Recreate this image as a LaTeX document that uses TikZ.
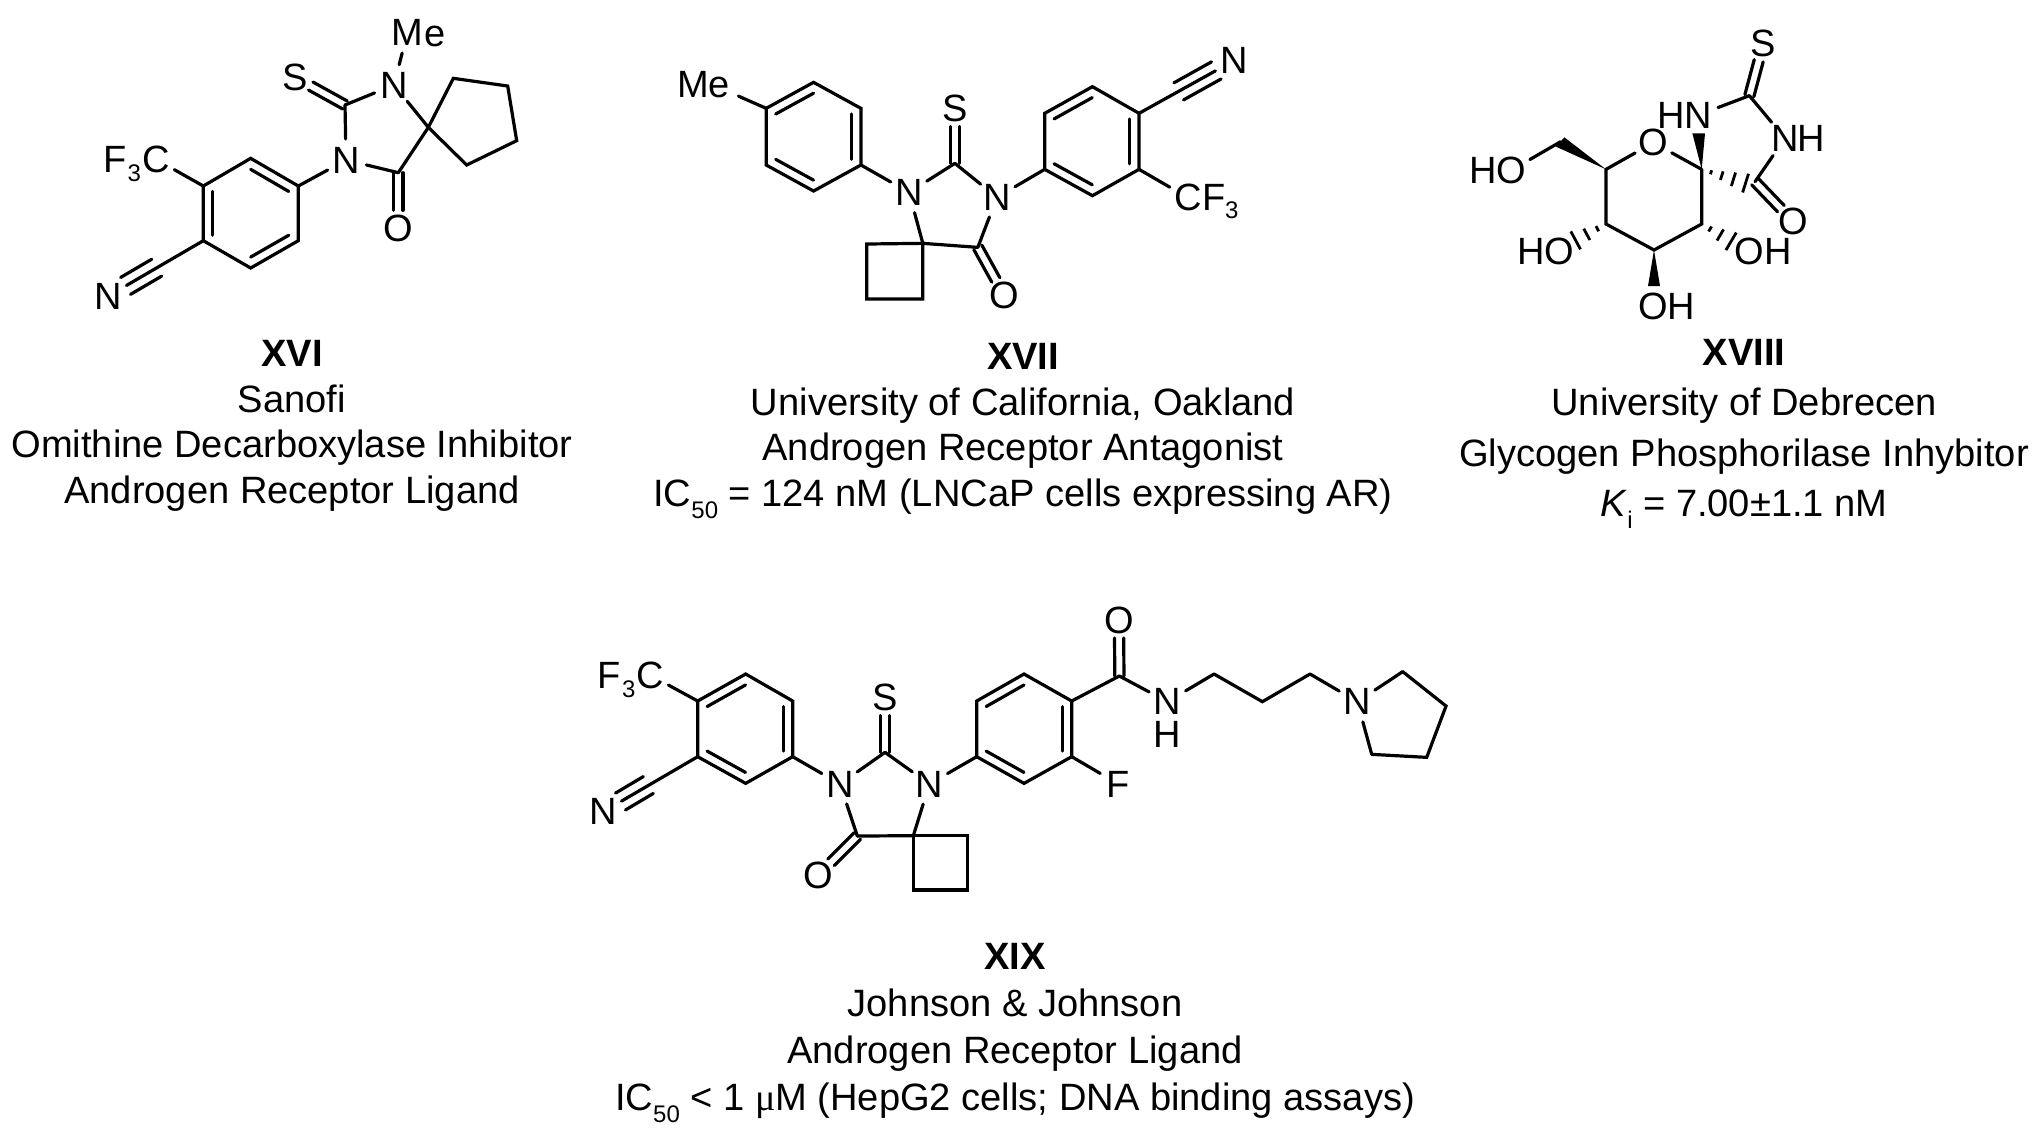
\documentclass[tikz,border=0pt]{standalone}
\usepackage{fontspec}
\setmainfont{Liberation Sans}
\newfontfamily\serifmu{Liberation Serif}
\usetikzlibrary{calc}
\newcommand\atomfont{\fontsize{19}{19}\selectfont}
\newcommand\subfont{\fontsize{12}{12}\selectfont}
\newcommand\sbs[1]{\raisebox{-.32em}{\subfont #1}}
\tikzset{
  bond/.style={line width=1.6pt,line cap=round,line join=miter,black},
  thinbond/.style={line width=1.4pt,line cap=butt,black},
  atom/.style={circle,inner sep=0pt,minimum size=20.6pt,font=\atomfont,text depth=0pt},
  piece/.style={inner sep=0pt,font=\atomfont},
  boxatom/.style={rectangle,inner sep=0pt,outer sep=2.3pt,font=\atomfont,text depth=0pt},
  subpiece/.style={inner sep=0pt,font=\subfont},
  caption/.style={inner sep=0pt,align=center,font=\fontsize{19.05}{22.8}\selectfont},
  mol/.style={x=0.166667pt,y=-0.166667pt},
}
% aromatic inner line, parallel to a-b, towards ring centre c
\newcommand\inner[3]{\draw[bond] ($(#1)!.2!(#3)$) -- ($(#2)!.2!(#3)$);}
% double bond from carbon #1 to atom node #2
\newcommand\dbl[2]{\draw[bond,shorten >=9pt] ($(#1)!2.3pt!90:(#2.center)$) -- ($(#2.center)!2.3pt!-90:(#1)$);
  \draw[bond,shorten >=9pt] ($(#1)!2.3pt!-90:(#2.center)$) -- ($(#2.center)!2.3pt!90:(#1)$);}
% side lines of a triple bond from carbon #1 to atom node #2
\newcommand\trp[2]{\draw[bond,shorten >=10pt] ($(#1)!4.9pt!90:(#2.center)$) -- ($(#2.center)!4.9pt!-90:(#1)$);
  \draw[bond,shorten >=10pt] ($(#1)!4.9pt!-90:(#2.center)$) -- ($(#2.center)!4.9pt!90:(#1)$);}
% hashed bond
\newcommand\hsh[3]{\foreach \t in {#3}{\draw[thinbond] ($(#1)!\t!(#2)!\t*5.2pt!90:(#2)$) -- ($(#1)!\t!(#2)!\t*5.2pt!-90:(#2)$);}}
\begin{document}
\begin{tikzpicture}[x=0.5pt,y=-0.5pt]
\path[use as bounding box,fill=white] (0,0) rectangle (2037,1137);

% ---------- XVI ----------
\begin{scope}[mol,shift={(40pt,0pt)}]
\foreach \n/\x/\y in {ar1/655/558,ar2/512/475,ar3/370/558,ar4/370/722,ar5/512/804,ar6/655/722,arc/512/640,
  cs/795/315,sp/1045/382,cp1/1120/235,cp2/1283/258,cp3/1310/422,cp4/1160/495,co/955/518,cnc/230/803}
  \coordinate (a\n) at (\x,\y);
\node[atom] (aS) at (645,232) {S};
\node[atom] (aN1) at (942,255) {N};
\node[atom] (aN2) at (798,480) {N};
\node[atom] (aO) at (955,685) {O};
\node[atom] (aN3) at (85,888) {N};
\node[atom] (aC) at (228,478) {C};
\node[piece] (aF) at (104,478) {F};
\node[subpiece] (a3) at (163,520) {3};
\node[atom] (aM) at (982,98) {M};
\node[piece] (ae) at (1065,108) {e};
\draw[bond] (aar1)--(aar2)--(aar3)--(aar4)--(aar5)--(aar6)--cycle;
\inner{aar1}{aar2}{aarc}\inner{aar3}{aar4}{aarc}\inner{aar5}{aar6}{aarc}
\draw[bond] (aN2)--(aar1);
\draw[bond] (aC)--(aar3);
\draw[bond] (aar4)--(aN3);
\trp{acnc}{aN3}
\draw[bond] (acs)--(aN1);
\draw[bond] (acs)--(aN2);
\dbl{acs}{aS}
\draw[bond] (aN1)--(aM);
\draw[bond] (aN1)--(asp);
\draw[bond] (asp)--(acp1)--(acp2)--(acp3)--(acp4)--cycle;
\draw[bond] (asp)--(aco);
\draw[bond] (aN2)--(aco);
\dbl{aco}{aO}
\end{scope}
\node[caption] (tXVI) at (292,426) {\textbf{XVI}\\Sanofi\\Omithine Decarboxylase Inhibitor\\Androgen Receptor Ligand};

% ---------- XVII ----------
\begin{scope}[mol,x=0.191pt,shift={(330pt,-15pt)}]
\foreach \n/\x/\y in {r1/278/235,r2/402/157,r3/526/235,r4/526/405,r5/402/483,r6/278/405,rc/402/320,
  s1/1007/418,s2/1132/497,s3/1254/418,s4/1254/250,s5/1132/170,s6/1007/250,sc/1130/334,
  cs/772/400,sp/688/640,q1/541/642,q2/541/807,q3/688/807,co/832/652,cnc/1358/184}
  \coordinate (b\n) at (\x,\y);
\node[piece] (bM) at (88,163) {M};
\node[atom] (be) at (155,173) {e};
\node[atom] (bN1) at (652,487) {N};
\node[atom] (bN2) at (882,502) {N};
\node[atom] (bS) at (772,235) {S};
\node[atom] (bO) at (902,797) {O};
\node[atom] (bN3) at (1502,92) {N};
\node[atom] (bC) at (1382,503) {C};
\node[piece] (bF) at (1450,503) {F};
\node[subpiece] (b3) at (1497,541) {3};
\draw[bond] (br1)--(br2)--(br3)--(br4)--(br5)--(br6)--cycle;
\inner{br1}{br2}{brc}\inner{br3}{br4}{brc}\inner{br5}{br6}{brc}
\draw[bond] (bs1)--(bs2)--(bs3)--(bs4)--(bs5)--(bs6)--cycle;
\inner{bs1}{bs2}{bsc}\inner{bs3}{bs4}{bsc}\inner{bs5}{bs6}{bsc}
\draw[bond] (br1)--(be);
\draw[bond] (br4)--(bN1);
\draw[bond] (bN1)--(bcs);
\draw[bond] (bcs)--(bN2);
\dbl{bcs}{bS}
\draw[bond] (bN2)--(bs1);
\draw[bond] (bs4)--(bN3);
\trp{bcnc}{bN3}
\draw[bond] (bs3)--(bC);
\draw[bond] (bN1)--(bsp);
\draw[bond] (bsp)--(bq1)--(bq2)--(bq3)--cycle;
\draw[bond] (bsp)--(bco);
\draw[bond] (bN2)--(bco);
\dbl{bco}{bO}
\end{scope}
\node[caption] (tXVII) at (1023,431) {\textbf{XVII}\\University of California, Oakland\\Androgen Receptor Antagonist\\IC\sbs{50} = 124 nM (LNCaP cells expressing AR)};

% ---------- XVIII ----------
\begin{scope}[mol,shift={(725pt,0pt)}]
\foreach \n/\x/\y in {r1/755/508,r2/755/672,r3/612/750,r4/468/672,r5/468/508,
  cs/898/287,co/915/545,ch/332/425,wa/343/412,wb/318/440,w1a/727/400,w1b/765/400,w3a/594/858,w3b/630/858,
  ha/895/552,hb/375/722,hc/845/725}
  \coordinate (c\n) at (\x,\y);
\node[atom] (cS) at (940,130) {S};
\node[piece] (cH1) at (665,345) {H};
\node[atom] (cN1) at (745,345) {N};
\node[atom] (cN2) at (1005,415) {N};
\node[piece] (cH2) at (1085,415) {H};
\node[atom] (cOr) at (610,428) {O};
\node[atom] (cO) at (1030,665) {O};
\node[piece] (cH3) at (100,510) {H};
\node[atom] (cO3) at (185,510) {O};
\node[piece] (cH4) at (243,755) {H};
\node[atom] (cO4) at (328,755) {O};
\node[atom] (cO5) at (897,755) {O};
\node[piece] (cH5) at (985,755) {H};
\node[atom] (cO6) at (610,920) {O};
\node[piece] (cH6) at (695,920) {H};
\draw[bond] (cr5)--(cr4)--(cr3)--(cr2)--(cr1);
\draw[bond] (cOr)--(cr5);
\draw[bond] (cOr)--(cr1);
\fill (cr1) -- (cw1a) -- (cw1b) -- cycle;
\fill (cr3) -- (cw3a) -- (cw3b) -- cycle;
\fill (cr5) -- (cwa) -- (cwb) -- cycle;
\draw[bond] (cO3)--(cch);
\draw[bond] (cN1)--(ccs);
\draw[bond] (ccs)--(cN2);
\dbl{ccs}{cS}
\draw[bond] (cN2)--(cco);
\dbl{cco}{cO}
\hsh{cr1}{cha}{.2,.43,.68,.94}
\hsh{cr4}{chb}{.28,.62,.98}
\hsh{cr2}{chc}{.28,.62,.98}
\end{scope}
\node[caption,font=\fontsize{19.05}{25.1}\selectfont] (tXVIII) at (1744,434) {\textbf{XVIII}\\University of Debrecen\\Glycogen Phosphorilase Inhybitor\\\textit{K}\sbs{i} = 7.00±1.1 nM};

% ---------- XIX ----------
\begin{scope}[mol,shift={(285pt,-295pt)}]
\foreach \n/\x/\y in {l1/383/333,l2/527/252,l3/668/333,l4/668/500,l5/527/580,l6/383/500,lc/525/416,
  r1/1220/500,r2/1362/580,r3/1505/500,r4/1505/333,r5/1362/252,r6/1220/333,rc/1362/416,
  cs/945/487,co/862/738,sp/1030/737,q1/1192/737,q2/1192/900,q3/1030/900,cnc/235/585,
  am/1648/258,c1/1932/252,c2/2077/335,c3/2220/252,p1/2498/245,p2/2628/348,p3/2570/502,p4/2405/493}
  \coordinate (d\n) at (\x,\y);
\node[atom] (dC) at (240,255) {C};
\node[piece] (dF) at (118,255) {F};
\node[subpiece] (d3) at (176,297) {3};
\node[atom] (dN3) at (100,665) {N};
\node[atom] (dN1) at (810,582) {N};
\node[atom] (dN2) at (1078,582) {N};
\node[atom] (dS) at (945,322) {S};
\node[atom] (dO) at (745,855) {O};
\node[atom] (dO2) at (1647,90) {O};
\node[boxatom] (dN4) at (1792,335) {N};
\node[piece] (dH) at (1792,432) {H};
\node[atom] (dN5) at (2362,335) {N};
\node[atom] (dF2) at (1645,582) {F};
\draw[bond] (dl1)--(dl2)--(dl3)--(dl4)--(dl5)--(dl6)--cycle;
\inner{dl1}{dl2}{dlc}\inner{dl3}{dl4}{dlc}\inner{dl5}{dl6}{dlc}
\draw[bond] (dr1)--(dr2)--(dr3)--(dr4)--(dr5)--(dr6)--cycle;
\inner{dr1}{dr2}{drc}\inner{dr3}{dr4}{drc}\inner{dr5}{dr6}{drc}
\draw[bond] (dC)--(dl1);
\draw[bond] (dl6)--(dN3);
\trp{dcnc}{dN3}
\draw[bond] (dl4)--(dN1);
\draw[bond] (dN1)--(dcs);
\draw[bond] (dcs)--(dN2);
\dbl{dcs}{dS}
\draw[bond] (dN2)--(dr1);
\draw[bond] (dN1)--(dco);
\draw[bond] (dN2)--(dsp);
\draw[bond] (dco)--(dsp);
\dbl{dco}{dO}
\draw[bond] (dsp)--(dq1)--(dq2)--(dq3)--cycle;
\draw[bond] (dr4)--(dam);
\dbl{dam}{dO2}
\draw[bond] (dam)--(dN4);
\draw[bond] (dN4)--(dc1);
\draw[bond] (dc1)--(dc2)--(dc3);
\draw[bond] (dc3)--(dN5);
\draw[bond] (dN5)--(dp1);
\draw[bond] (dp1)--(dp2)--(dp3)--(dp4);
\draw[bond] (dp4)--(dN5);
\draw[bond] (dr3)--(dF2);
\end{scope}
\node[caption,font=\fontsize{19.05}{23.6}\selectfont] (tXIX) at (1015,1033) {\textbf{XIX}\\Johnson \& Johnson\\Androgen Receptor Ligand\\IC\sbs{50} < 1 {\serifmu μ}M (HepG2 cells; DNA binding assays)};
\end{tikzpicture}
\end{document}
